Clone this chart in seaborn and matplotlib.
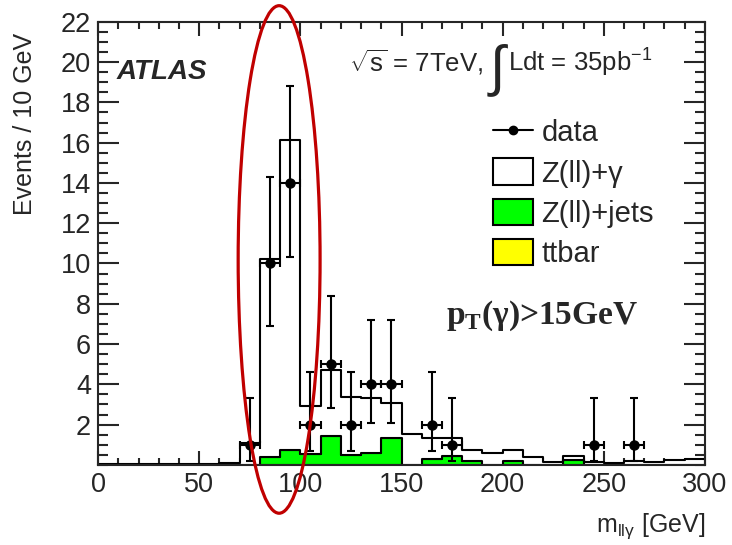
import numpy as np
import pandas as pd
import matplotlib
matplotlib.use("Agg")
import matplotlib.pyplot as plt
from matplotlib.patches import Ellipse, Patch
from matplotlib.lines import Line2D
from matplotlib.ticker import MultipleLocator
import seaborn as sns

# bin centres of the 10 GeV bins (0-300 GeV)
bin_centres = [5, 15, 25, 35, 45, 55, 65, 75, 85, 95,
               105, 115, 125, 135, 145, 155, 165, 175, 185, 195,
               205, 215, 225, 235, 245, 255, 265, 275, 285, 295]

# expected events per bin
zgamma = [0.02, 0.02, 0.02, 0.02, 0.02, 0.03, 0.10, 1.07, 9.80, 15.40,
          2.35, 3.28, 2.89, 2.70, 1.76, 1.55, 1.05, 0.90, 0.54, 0.61,
          0.54, 0.41, 0.16, 0.23, 0.16, 0.10, 0.20, 0.15, 0.25, 0.30]
zjets = [0.0, 0.0, 0.0, 0.0, 0.0, 0.0, 0.0, 0.0, 0.40, 0.74,
         0.55, 1.42, 0.50, 0.60, 1.32, 0.0, 0.27, 0.42, 0.20, 0.0,
         0.20, 0.0, 0.0, 0.22, 0.0, 0.0, 0.0, 0.0, 0.0, 0.0]
ttbar = [0.0] * 30

# observed data with asymmetric errors
data_x = [75, 85, 95, 105, 115, 125, 135, 145, 165, 175, 245, 265]
data_n = [1, 10, 14, 2, 5, 2, 4, 4, 2, 1, 1, 1]
data_err_lo = [0.83, 3.1, 3.7, 1.3, 2.2, 1.3, 1.9, 1.9, 1.3, 0.83, 0.83, 0.83]
data_err_hi = [2.3, 4.3, 4.8, 2.6, 3.4, 2.6, 3.2, 3.2, 2.6, 2.3, 2.3, 2.3]

processes = ["Z(ll)+γ", "Z(ll)+jets", "ttbar"]
colors = {"Z(ll)+γ": "white", "Z(ll)+jets": "#00ff00", "ttbar": "#ffff00"}

df = pd.concat([
    pd.DataFrame({"mass": bin_centres, "events": zgamma, "process": "Z(ll)+γ"}),
    pd.DataFrame({"mass": bin_centres, "events": zjets, "process": "Z(ll)+jets"}),
    pd.DataFrame({"mass": bin_centres, "events": ttbar, "process": "ttbar"}),
], ignore_index=True)

sns.set_theme(style="ticks")
plt.rcParams["font.family"] = ["Liberation Sans", "DejaVu Sans"]
plt.rcParams["mathtext.fontset"] = "custom"
plt.rcParams["mathtext.rm"] = "Liberation Sans"
plt.rcParams["mathtext.it"] = "Liberation Sans:italic"
plt.rcParams["mathtext.bf"] = "Liberation Serif:bold"

fig = plt.figure(figsize=(7.32, 5.45), dpi=100)
ax = fig.add_axes([0.134, 0.147, 0.829, 0.813])

sns.histplot(data=df, x="mass", weights="events", hue="process", hue_order=processes,
             multiple="stack", binwidth=10, binrange=(0, 300), element="step",
             palette=colors, edgecolor="black", linewidth=1.5, alpha=1,
             legend=False, ax=ax)

ax.errorbar(data_x, data_n, yerr=[data_err_lo, data_err_hi], xerr=5,
            fmt="o", color="black", markersize=6.5, elinewidth=1.5,
            capsize=3, capthick=1.5, zorder=5)

ax.set_xlim(0, 300)
ax.set_ylim(0, 22)
ax.set_xticks(range(0, 301, 50))
ax.set_yticks(range(2, 23, 2))
ax.xaxis.set_minor_locator(MultipleLocator(10))
ax.yaxis.set_minor_locator(MultipleLocator(0.5))
ax.tick_params(axis="both", which="both", direction="in", top=True, right=True,
               width=1.5, labelsize=19.5, pad=5)
ax.tick_params(axis="x", which="major", length=10)
ax.tick_params(axis="x", which="minor", length=5)
ax.tick_params(axis="y", which="major", length=15)
ax.tick_params(axis="y", which="minor", length=7)
for s in ax.spines.values():
    s.set_linewidth(1.5)

ax.set_ylabel("Events / 10 GeV", fontsize=18)
ax.yaxis.set_label_coords(-0.1, 0.77)
ax.set_xlabel("m$_{\\mathrm{llγ}}$ [GeV]", fontsize=18)
ax.xaxis.set_label_coords(1.0, -0.105)
ax.xaxis.label.set_horizontalalignment("right")

ax.text(0.031, 0.887, "ATLAS", transform=ax.transAxes, fontsize=20,
        fontweight="bold", fontstyle="italic", va="center")
ax.text(0.413, 0.887, "$\\sqrt{\\mathrm{s}}$ = 7TeV,", transform=ax.transAxes,
        fontsize=18.5, va="baseline")
ax.text(0.658, 0.892, "∫", transform=ax.transAxes, fontsize=40,
        va="center", ha="center", fontweight="light")
ax.text(0.675, 0.887, "Ldt = 35pb$^{\\mathrm{-1}}$", transform=ax.transAxes,
        fontsize=18.5, va="baseline")
ax.text(0.573, 0.336, "p$_{\\mathbf{T}}$(γ)>15GeV", transform=ax.transAxes,
        fontsize=24, fontweight="bold", family=["Liberation Serif", "DejaVu Serif"],
        va="center")

handles = [
    Line2D([], [], color="black", marker="o", markersize=6, lw=1.5),
    Patch(facecolor="white", edgecolor="black", lw=1.5),
    Patch(facecolor="#00ff00", edgecolor="black", lw=1.5),
    Patch(facecolor="#ffff00", edgecolor="black", lw=1.5),
]
ax.legend(handles, ["data", "Z(ll)+γ", "Z(ll)+jets", "ttbar"], loc="upper left",
          bbox_to_anchor=(0.607, 0.842), frameon=False, fontsize=21,
          handlelength=1.37, handleheight=1.0, handletextpad=0.3, labelspacing=0.39)

# highlight of the Z peak region
ax.add_patch(Ellipse((89.5, 10.2), 40.5, 25.2, fill=False, edgecolor="#c00000",
                     lw=2.3, clip_on=False, zorder=10))

fig.savefig("out.png", dpi=100)
